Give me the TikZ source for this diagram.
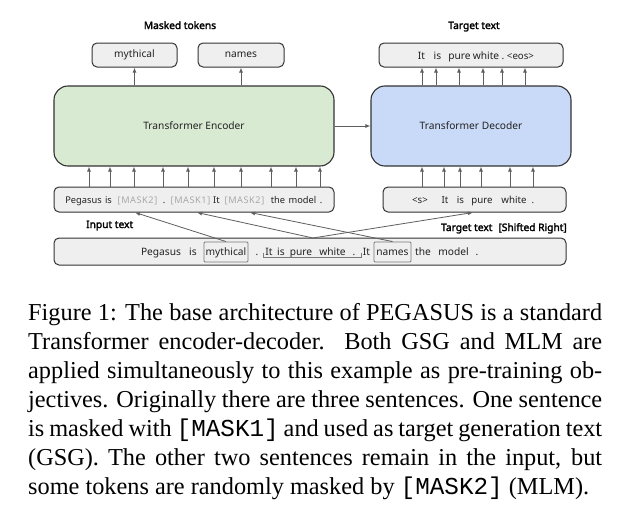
\documentclass[tikz,border=0pt]{standalone}
\usepackage{fontspec}
\setmainfont{Liberation Serif}
\setmonofont{Liberation Mono}
\newfontfamily\dgfont{Noto Sans}
\newfontfamily\dgbold{Noto Sans}[FakeBold=2.2]
\newfontfamily\maskfont{Noto Sans}[LetterSpace=6]
\usetikzlibrary{arrows.meta}
\definecolor{encfill}{HTML}{D9EAD3}
\definecolor{decfill}{HTML}{C9DAF8}
\definecolor{boxfill}{HTML}{EFEFEF}
\definecolor{edgec}{HTML}{333333}
\definecolor{arrc}{HTML}{5F5F5F}
\definecolor{maskc}{HTML}{A8A8A8}
\definecolor{hlc}{HTML}{7A7A7A}
\definecolor{txtc}{HTML}{222222}
\begin{document}
\begin{tikzpicture}[x=1pt,y=-1pt,
  bigbox/.style={draw=edgec, line width=1.1pt, rounded corners=14pt, inner sep=0pt,
    text=txtc, font=\dgfont\fontsize{10.2}{12}\selectfont},
  smallbox/.style={draw=edgec, line width=1pt, rounded corners=5pt, fill=boxfill, inner sep=0pt,
    text=txtc, font=\dgfont\fontsize{10.2}{12}\selectfont},
  hlbox/.style={draw=hlc, line width=0.9pt, rounded corners=1pt, inner sep=0pt},
  tok/.style={font=\dgfont\fontsize{10.2}{12}\selectfont, text=txtc, inner sep=0pt, anchor=base},
  stok/.style={font=\dgfont\fontsize{9.7}{11}\selectfont, text=txtc, inner sep=0pt, anchor=base},
  etok/.style={font=\dgfont\fontsize{9.3}{11}\selectfont, text=txtc, inner sep=0pt, anchor=base},
  mtok/.style={font=\maskfont\fontsize{9.2}{11}\selectfont, text=maskc, inner sep=0pt, anchor=base},
  lbl/.style={font=\dgbold\fontsize{10.2}{12}\selectfont, text=black, inner sep=0pt, anchor=base},
  uparrow/.style={draw=arrc, line width=0.9pt, -{Latex[length=5pt,width=4pt]}},
  conn/.style={draw=arrc, line width=0.8pt, -{Latex[length=5pt,width=4pt]}},
]
\useasboundingbox[fill=white] (0,0) rectangle (638,522);

% labels
\node[lbl] (lmask) at (180,29) {Masked tokens};
\node[lbl] (ltgt) at (474,29) {Target text};
\node[lbl, anchor=base west] (linp) at (86,228) {Input text};
\node[lbl, anchor=base east] (lshift) at (567,231) {Target text\hspace{6pt}[Shifted Right]};

% top boxes
\node[smallbox, minimum width=85pt, minimum height=24pt] (myth) at (134.5,55) {mythical};
\node[smallbox, minimum width=86pt, minimum height=24pt] (names) at (241,55) {names};
\node[smallbox, minimum width=184pt, minimum height=24pt] (out) at (471,55) {};
\node[tok] (o1) at (421.5,59) {It};
\node[tok] (o2) at (437.5,59) {is};
\node[tok] (o3) at (459.5,59) {pure};
\node[tok] (o4) at (486,59) {white};
\node[tok] (o5) at (503,59) {.};
\node[stok] (o6) at (520.5,59) {<eos>};

% encoder / decoder
\node[bigbox, fill=encfill, minimum width=280pt, minimum height=80pt] (enc) at (194,126) {Transformer Encoder};
\node[bigbox, fill=decfill, minimum width=200pt, minimum height=80pt] (dec) at (471,126) {Transformer Decoder};
\draw[uparrow] (enc.east) -- (dec.west);

% arrows to masked tokens and target
\draw[uparrow] (enc.north -| myth) -- (myth.south);
\draw[uparrow] (enc.north -| names) -- (names.south);
\foreach \x in {422,436,459,483,502,525}
  \draw[uparrow] (dec.north -| \x,0) -- (out.south -| \x,0);

% encoder input
\node[smallbox, minimum width=280pt, minimum height=25pt] (encin) at (194,199.5) {};
\node[etok] (e1) at (83.5,203) {Pegasus};
\node[etok] (e2) at (108.5,203) {is};
\node[mtok] (e3) at (137.5,203) {[MASK2]};
\node[etok] (e4) at (164,203) {.};
\node[mtok] (e5) at (190.5,203) {[MASK1]};
\node[etok] (e6) at (216.5,203) {It};
\node[mtok] (e7) at (244.5,203) {[MASK2]};
\node[etok] (e8) at (278,203) {the};
\node[etok] (e9) at (302.5,203) {model};
\node[etok] (e10) at (321,203) {.};
\foreach \x in {89,110,134,163,188,214,241,271,296,320}
  \draw[uparrow] (encin.north -| \x,0) -- (enc.south -| \x,0);

% decoder input
\node[smallbox, minimum width=183pt, minimum height=25pt] (decin) at (474.5,199.5) {};
\node[stok] (d1) at (420,203) {<s>};
\node[stok] (d2) at (445,203) {It};
\node[stok] (d3) at (460.5,203) {is};
\node[stok] (d4) at (482,203) {pure};
\node[stok] (d5) at (514,203) {white};
\node[stok] (d6) at (533,203) {.};
\foreach \x in {422,444,460,481,510,533}
  \draw[uparrow] (decin.north -| \x,0) -- (dec.south -| \x,0);

% input text box
\node[smallbox, minimum width=512pt, minimum height=27pt] (inp) at (310,251.5) {};
\node[hlbox, minimum width=44pt, minimum height=20pt] (mythhl) at (226,252) {};
\node[hlbox, minimum width=37pt, minimum height=20pt] (nameshl) at (392.5,252) {};
\node[tok] (b1) at (161,255) {Pegasus};
\node[tok] (b2) at (193,255) {is};
\node[tok] (b3) at (226,255) {mythical};
\node[tok] (b4) at (257,255) {.};
\node[tok] (b5) at (269,255) {It};
\node[tok] (b6) at (281,255) {is};
\node[tok] (b7) at (301,255) {pure};
\node[tok] (b8) at (332.5,255) {white};
\node[tok] (b9) at (354,255) {.};
\node[tok] (b10) at (366.5,255) {It};
\node[tok] (b11) at (392.5,255) {names};
\node[tok] (b12) at (423,255) {the};
\node[tok] (b13) at (453.5,255) {model};
\node[tok] (b14) at (477,255) {.};
\draw[draw=hlc, line width=0.8pt] (263,252.5) -- (263,257.5) -- (361,257.5) -- (361,252.5);

% connectors
\coordinate (brk) at (313,238);
\draw[conn] (mythhl.north) -- (encin.south -| 135,0);
\draw[conn] (brk) -- (encin.south -| 197,0);
\draw[conn] (nameshl.north) -- (encin.south -| 250,0);
\draw[conn] (brk) -- (decin.south -| 473,0);

% caption
\node[anchor=north west, inner sep=0pt, align=left, font=\fontsize{24.3}{28.9}\selectfont] (cap) at (28,303.5) {%
\makebox[574pt][s]{Figure 1: The base architecture of PEGASUS is a standard}\\
\makebox[574pt][s]{Transformer encoder-decoder.\ \ Both GSG and MLM are}\\
\makebox[574pt][s]{applied simultaneously to this example as pre-training ob-}\\
\makebox[574pt][s]{jectives. Originally there are three sentences. One sentence}\\
\makebox[574pt][s]{is masked with \texttt{[MASK1]} and used as target generation text}\\
\makebox[574pt][s]{(GSG). The other two sentences remain in the input, but}\\
some tokens are randomly masked by \texttt{[MASK2]} (MLM).};
\end{tikzpicture}
\end{document}
